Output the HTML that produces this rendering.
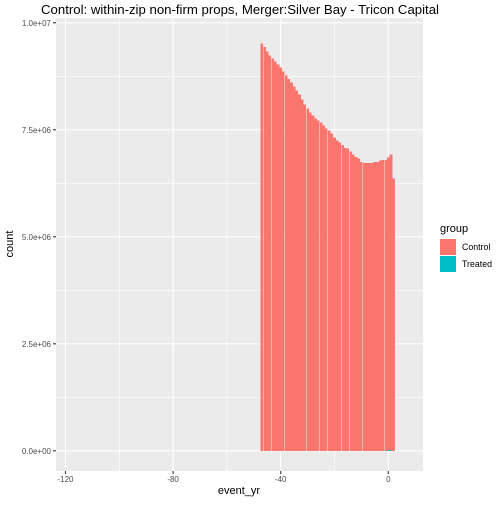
<!DOCTYPE html>
<html><head><meta charset="utf-8"><style>
body{margin:0;background:#fff;}
svg{font-family:"Liberation Sans",sans-serif;}
</style></head><body>
<svg id="chart" width="503" height="503" xmlns="http://www.w3.org/2000/svg">
<rect x="0" y="0" width="503" height="503" fill="#fff"/>
<text x="240" y="14" font-size="13.2" text-anchor="middle" fill="#000">Control: within-zip non-firm props, Merger:Silver Bay - Tricon Capital</text>
<rect x="56" y="18" width="367" height="453" fill="#ebebeb"/>
<g id="grid"></g>
<g id="bars" shape-rendering="crispEdges"></g>
<g id="axes"></g>
<text x="239" y="494" font-size="11" text-anchor="middle" fill="#000">event_yr</text>
<text transform="translate(13,244) rotate(-90)" font-size="11" text-anchor="middle" fill="#000">count</text>
<g>
<text x="440" y="232" font-size="11" fill="#000">group</text>
<rect x="440" y="239" width="16" height="16" fill="#f8766d"/>
<text x="462" y="250" font-size="8.8" fill="#000">Control</text>
<rect x="440" y="256" width="16" height="16" fill="#00bfc4"/>
<text x="462" y="267" font-size="8.8" fill="#000">Treated</text>
</g>
</svg>
<script>
const years = [-47,-46,-45,-44,-43,-42,-41,-40,-39,-38,-37,-36,-35,-34,-33,-32,-31,-30,-29,-28,-27,-26,-25,-24,-23,-22,-21,-20,-19,-18,-17,-16,-15,-14,-13,-12,-11,-10,-9,-8,-7,-6,-5,-4,-3,-2,-1,0,1,2];
const controlCounts = [9.52e6,9.43e6,9.33e6,9.24e6,9.17e6,9.10e6,9.03e6,8.96e6,8.86e6,8.77e6,8.69e6,8.61e6,8.51e6,8.42e6,8.32e6,8.21e6,8.09e6,8.00e6,7.90e6,7.83e6,7.76e6,7.72e6,7.67e6,7.60e6,7.53e6,7.48e6,7.41e6,7.32e6,7.25e6,7.20e6,7.15e6,7.08e6,7.06e6,6.99e6,6.92e6,6.87e6,6.83e6,6.75e6,6.73e6,6.73e6,6.73e6,6.73e6,6.75e6,6.75e6,6.78e6,6.80e6,6.80e6,6.85e6,6.92e6,6.36e6];
const treatedYears = [0,1];
const treatedCounts = [20000,20000];
const xTicks = [-120,-80,-40,0];
const xTickLabels = ["-120","-80","-40","0"];
const yTicks = [0,2.5e6,5e6,7.5e6,1e7];
const yTickLabels = ["0.0e+00","2.5e+06","5.0e+06","7.5e+06","1.0e+07"];

const NS="http://www.w3.org/2000/svg";
const xs = v => 388.3 + (v)*2.69;
const ys = v => 450.8 - v*42.8e-6;
const PL=56, PR=423, PT=18, PB=471;
function mk(tag, attrs, parent){const e=document.createElementNS(NS,tag);for(const k in attrs)e.setAttribute(k,attrs[k]);parent.appendChild(e);return e;}
const grid=document.getElementById('grid'), bars=document.getElementById('bars'), axes=document.getElementById('axes');
for(let i=0;i<yTicks.length-1;i++){const v=(yTicks[i]+yTicks[i+1])/2;
  const l=mk('line',{x1:PL,x2:PR,y1:ys(v),y2:ys(v),stroke:'#fff','stroke-width':0.55},grid);
  
  }
for(let i=0;i<xTicks.length;i++){const v=xTicks[i]+20;
  const l=mk('line',{x1:xs(v),x2:xs(v),y1:PT,y2:PB,stroke:'#fff','stroke-width':0.55},grid);
  
  }
yTicks.forEach((v,i)=>{
  const l=mk('line',{x1:PL,x2:PR,y1:ys(v),y2:ys(v),stroke:'#fff','stroke-width':1.1},grid);
  
  
  const t=mk('line',{x1:PL-3,x2:PL,y1:ys(v),y2:ys(v),stroke:'#333','stroke-width':1.1},axes);
  
  
  const tx=mk('text',{x:PL-5,y:ys(v)+3,'font-size':8,'text-anchor':'end',fill:'#4d4d4d'},axes);
  tx.textContent=yTickLabels[i];
  
  
});
xTicks.forEach((v,i)=>{
  const l=mk('line',{x1:xs(v),x2:xs(v),y1:PT,y2:PB,stroke:'#fff','stroke-width':1.1},grid);
  
  
  const t=mk('line',{x1:xs(v),x2:xs(v),y1:PB,y2:PB+3,stroke:'#333','stroke-width':1.1},axes);
  
  
  const tx=mk('text',{x:xs(v),y:PB+11,'font-size':8,'text-anchor':'middle',fill:'#4d4d4d'},axes);
  tx.textContent=xTickLabels[i];
  
  
});
years.forEach((yr,i)=>{
  const y0=ys(controlCounts[i]);
  const r=mk('rect',{x:xs(yr-0.48),width:2.69*0.96,y:y0,height:ys(0)-y0,fill:'#f8766d'},bars);
  
  
});
treatedYears.forEach((yr,i)=>{
  const y0=ys(treatedCounts[i]);
  const r=mk('rect',{x:xs(yr-0.45),width:2.69*0.9,y:y0,height:Math.max(1,ys(0)-y0),fill:'#00bfc4'},bars);
  
  
});
</script>
</body></html>
